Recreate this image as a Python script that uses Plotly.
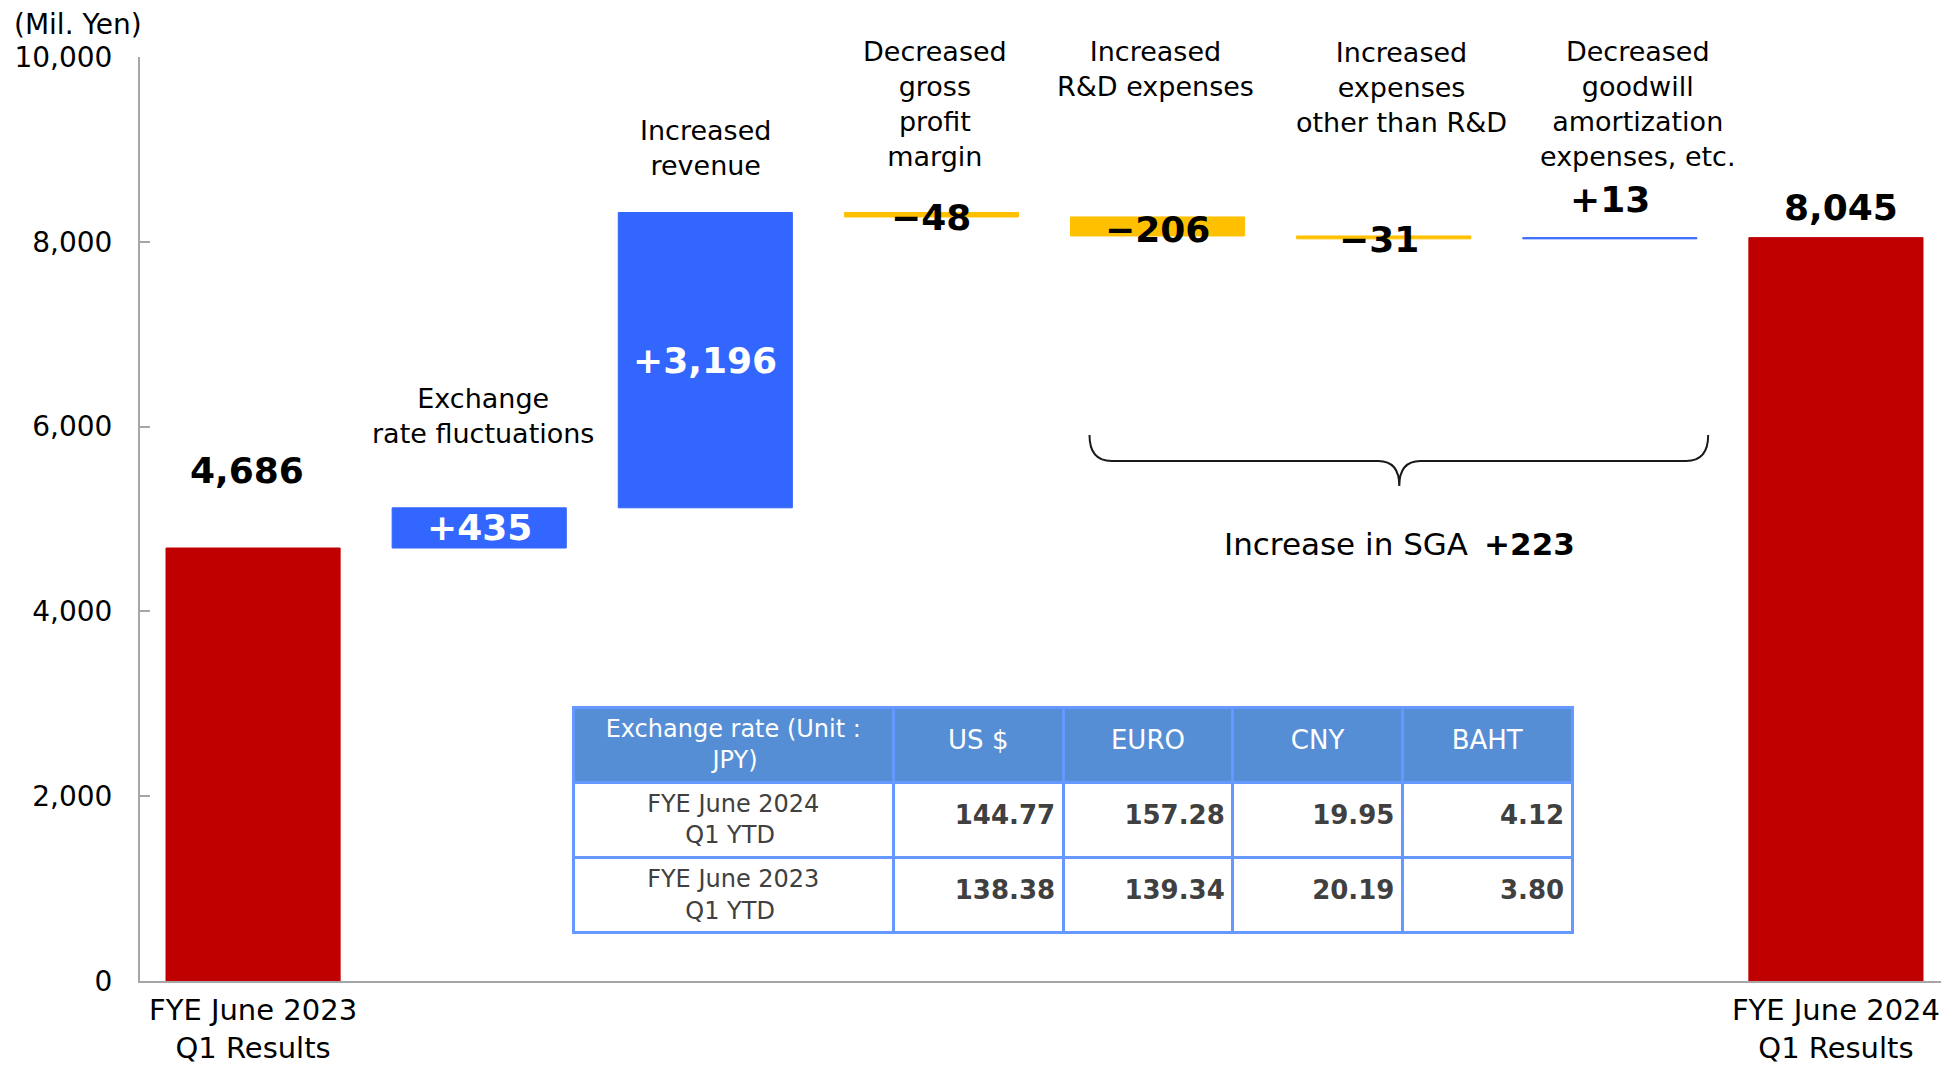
import plotly.graph_objects as go

# ---------------- data ----------------
categories = [
    "FYE June 2023<br>Q1 Results",
    "Exchange<br>rate fluctuations",
    "Increased<br>revenue",
    "Decreased<br>gross<br>profit<br>margin",
    "Increased<br>R&D expenses",
    "Increased<br>expenses<br>other than R&D",
    "Decreased<br>goodwill<br>amortization<br>expenses, etc.",
    "FYE June 2024<br>Q1 Results",
]
measures = ["absolute", "relative", "relative", "relative",
            "relative", "relative", "relative", "total"]
values = [4686, 435, 3196, -48, -206, -31, 13, 8045]
value_labels = ["4,686", "+435", "+3,196", "\u221248", "\u2212206", "\u221231", "+13", "8,045"]

y_ticks = [0, 2000, 4000, 6000, 8000, 10000]

sga_label = "Increase in SGA \u2009<b>+223</b>"

fx_header_first = ["Exchange rate (Unit :", "JPY)"]
fx_currencies = ["US $", "EURO", "CNY", "BAHT"]
fx_periods = [["FYE June 2024", "Q1 YTD"], ["FYE June 2023", "Q1 YTD"]]
fx_2024 = [144.77, 157.28, 19.95, 4.12]
fx_2023 = [138.38, 139.34, 20.19, 3.80]

# ---------------- styles ----------------
FONT = "DejaVu Sans"
RED = "#C00000"
BLUE = "#3366FF"
YELLOW = "#FFC000"
AXIS = "#A6A6A6"
NBSP = "\u00a0"

# label placement (style, not data)
label_anchor = ["top", "mid", "mid", "end", "mid", "end", "top", "top"]
label_shift = [78, 0, 0, -1, -3, -1, 38, 30]
label_xshift = [-6, 0, 0, 0, 0, -5, 0, 5]
label_color = ["black", "white", "white", "black", "black", "black", "black", "black"]
cat_label_y = [None, 0.611, 0.9015, 0.9486, 0.9865, 0.9675, 0.9486, None]
cat_label_xshift = [0, 4, 0, 4, -2, 18, 28, 0]


def centered_two_lines(lines, pad):
    # plotly tables left-align the lines of a multi-line cell; pad the
    # second (shorter) line so it appears centred under the first one
    return lines[0] + "<br>" + NBSP * pad + lines[1]


# ---------------- compute waterfall geometry ----------------
bases, heights, colors = [], [], []
running = 0
for m, v in zip(measures, values):
    if m == "relative":
        bases.append(running)
        heights.append(v)
        colors.append(BLUE if v > 0 else YELLOW)
        running += v
    else:
        bases.append(0)
        heights.append(v)
        colors.append(RED)
        running = v

xs = list(range(len(categories)))

fig = go.Figure()
fig.add_trace(go.Bar(
    x=xs, y=heights, base=bases,
    width=0.77,
    marker=dict(color=colors, line=dict(color=colors, width=1)),
    hoverinfo="skip",
    showlegend=False,
))

annotations = []
for i in xs:
    b, h = bases[i], heights[i]
    if label_anchor[i] in ("top", "end"):
        yv = b + h
    else:
        yv = b + h / 2
    annotations.append(dict(
        x=i, y=yv, xref="x", yref="y", text="<b>" + value_labels[i] + "</b>",
        showarrow=False, yanchor="middle", xanchor="center",
        yshift=label_shift[i], xshift=label_xshift[i],
        font=dict(family=FONT, size=36, color=label_color[i]),
    ))
    if cat_label_y[i] is not None:
        annotations.append(dict(
            x=i, y=cat_label_y[i], xref="x", yref="paper", text=categories[i],
            showarrow=False, yanchor="middle", xanchor="center",
            xshift=cat_label_xshift[i], align="center",
            font=dict(family=FONT, size=27, color="black"),
        ))

annotations.append(dict(
    x=-0.0708, y=1.035, xref="paper", yref="paper", text="(Mil. Yen)",
    showarrow=False, xanchor="left", yanchor="middle",
    font=dict(family=FONT, size=28, color="black"),
))
annotations.append(dict(
    x=5.07, y=4729, xref="x", yref="y", text=sga_label,
    showarrow=False, xanchor="center", yanchor="middle",
    font=dict(family=FONT, size=31, color="black"),
))

# curly brace below the SGA items
brace = ("M 3.699,5909 Q 3.699,5628 3.796,5628 L 4.976,5628 "
         "Q 5.069,5628 5.069,5357 Q 5.069,5628 5.162,5628 "
         "L 6.338,5628 Q 6.435,5628 6.435,5909")
fig.add_shape(type="path", path=brace, xref="x", yref="y",
              line=dict(color="#1a1a1a", width=2))

# exchange-rate table
col_values = [[centered_two_lines(p, 5) for p in fx_periods]]
for j in range(len(fx_currencies)):
    col_values.append(["<br><b>%.2f</b>" % fx_2024[j], "<br><b>%.2f</b>" % fx_2023[j]])

header_values = [centered_two_lines(fx_header_first, 14)] + ["<br>" + c for c in fx_currencies]

fig.add_trace(go.Table(
    domain=dict(x=[0.2394, 0.7921], y=[0.044, 0.2965]),
    columnwidth=[321, 170, 170, 170, 170],
    header=dict(
        values=header_values,
        fill_color="#558ED5",
        line=dict(color="#6699FF", width=3),
        align="center",
        height=74,
        font=dict(family=FONT, size=[24, 26, 26, 26, 26], color="white"),
    ),
    cells=dict(
        values=col_values,
        fill_color="white",
        line=dict(color="#6699FF", width=3),
        align=["center", "right", "right", "right", "right"],
        height=74,
        font=dict(family=FONT, size=[24, 26, 26, 26, 26], color="#404040"),
    ),
))

fig.update_layout(
    width=1941, height=1057,
    margin=dict(l=132, r=0, t=49, b=84),
    paper_bgcolor="white", plot_bgcolor="white",
    bargap=0.23,
    annotations=annotations,
    xaxis=dict(
        range=[-0.5, 7.5], tickvals=xs,
        ticktext=[categories[0], "", "", "", "", "", "", categories[-1]],
        showline=True, linecolor=AXIS, linewidth=2,
        showgrid=False, zeroline=False, ticks="",
        ticklabelstandoff=2, automargin=False,
        tickfont=dict(family=FONT, size=29, color="black"),
        fixedrange=True,
    ),
    yaxis=dict(
        range=[0, 10000], tickvals=y_ticks, tickformat=",",
        showline=True, linecolor=AXIS, linewidth=2,
        ticks="inside", ticklen=10, tickcolor=AXIS, tickwidth=2,
        showgrid=False, zeroline=False, automargin=False,
        ticklabelstandoff=20,
        tickfont=dict(family=FONT, size=28, color="black"),
        fixedrange=True,
    ),
)

fig.write_html("out.html")
